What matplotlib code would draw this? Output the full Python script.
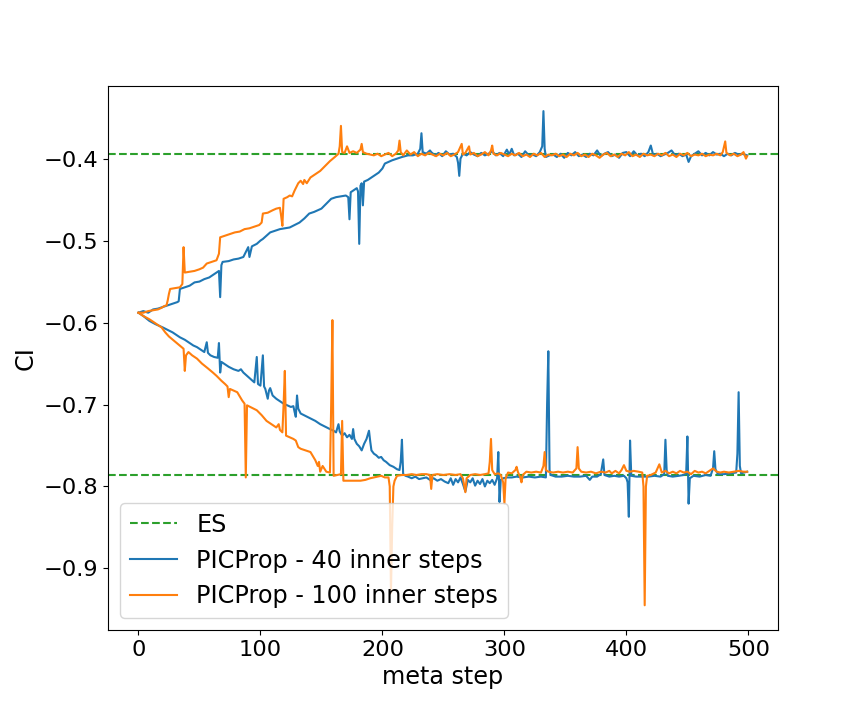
import matplotlib
matplotlib.use("Agg")
import matplotlib.pyplot as plt
import numpy as np

# ES bounds
es_upper = -0.3948
es_lower = -0.7862

# PICProp, 40 inner steps: (meta step, CI bound)
blue_upper = [
    (0, -0.588), (4, -0.586), (8, -0.588), (12, -0.584), (16, -0.583), (20, -0.581),
    (24, -0.579), (28, -0.577), (32, -0.575), (33, -0.574), (34, -0.559), (38, -0.557),
    (42, -0.555), (46, -0.551), (50, -0.550), (54, -0.547), (58, -0.545), (62, -0.541),
    (66, -0.537), (67, -0.569), (68, -0.530), (69, -0.526), (74, -0.525), (78, -0.523),
    (82, -0.522), (86, -0.520), (88, -0.514), (90, -0.508), (91, -0.520), (93, -0.507),
    (97, -0.504), (100, -0.500), (102, -0.498), (105, -0.494), (108, -0.490), (112, -0.488),
    (116, -0.486), (120, -0.485), (124, -0.484), (128, -0.481), (132, -0.478), (136, -0.473),
    (140, -0.467), (144, -0.465), (147, -0.463), (150, -0.461), (154, -0.455), (158, -0.449),
    (162, -0.447), (166, -0.446), (170, -0.445), (172, -0.447), (173, -0.474), (174, -0.441),
    (176, -0.439), (179, -0.436), (180, -0.440), (181, -0.504), (182, -0.433), (183, -0.430),
    (184, -0.457), (185, -0.428), (188, -0.426), (191, -0.423), (194, -0.420), (197, -0.417),
    (200, -0.412), (202, -0.406), (205, -0.404), (208, -0.402), (212, -0.400), (216, -0.398),
    (221, -0.396), (225, -0.396), (229, -0.394), (231, -0.388), (232, -0.369), (233, -0.392),
    (236, -0.394), (239, -0.390), (240, -0.392), (243, -0.396), (246, -0.393), (249, -0.397),
    (252, -0.391), (255, -0.395), (258, -0.394), (261, -0.398), (262, -0.405), (263, -0.421),
    (264, -0.400), (266, -0.394), (269, -0.396), (272, -0.392), (275, -0.395), (278, -0.397),
    (281, -0.393), (284, -0.396), (287, -0.394), (290, -0.391), (293, -0.396), (296, -0.393),
    (299, -0.397), (302, -0.389), (304, -0.395), (306, -0.388), (308, -0.396), (311, -0.394),
    (314, -0.398), (317, -0.391), (320, -0.396), (323, -0.395), (326, -0.397), (329, -0.392),
    (331, -0.385), (332, -0.342), (333, -0.388), (334, -0.398), (337, -0.396), (340, -0.395),
    (343, -0.398), (346, -0.394), (349, -0.399), (352, -0.393), (355, -0.396), (358, -0.392),
    (361, -0.397), (364, -0.395), (367, -0.398), (370, -0.394), (373, -0.396), (376, -0.390),
    (379, -0.397), (382, -0.394), (385, -0.392), (388, -0.397), (391, -0.395), (394, -0.399),
    (397, -0.393), (400, -0.392), (403, -0.397), (406, -0.391), (409, -0.396), (412, -0.394),
    (415, -0.397), (418, -0.392), (420, -0.384), (422, -0.396), (425, -0.394), (428, -0.397),
    (431, -0.395), (434, -0.393), (437, -0.390), (440, -0.396), (443, -0.394), (446, -0.397),
    (449, -0.395), (451, -0.404), (453, -0.397), (456, -0.394), (459, -0.391), (462, -0.396),
    (465, -0.393), (468, -0.396), (471, -0.392), (474, -0.395), (477, -0.394), (480, -0.397),
    (483, -0.394), (486, -0.396), (489, -0.393), (492, -0.395), (495, -0.394), (499, -0.396),
]

blue_lower = [
    (0, -0.588), (4, -0.592), (9, -0.598), (14, -0.602), (20, -0.606), (24, -0.609),
    (28, -0.612), (31, -0.615), (34, -0.618), (38, -0.621), (42, -0.625), (45, -0.628),
    (48, -0.630), (51, -0.633), (54, -0.636), (56, -0.624), (57, -0.637), (59, -0.640),
    (62, -0.642), (65, -0.643), (66, -0.625), (67, -0.661), (68, -0.648), (71, -0.651),
    (74, -0.654), (78, -0.657), (82, -0.659), (84, -0.657), (86, -0.661), (89, -0.665),
    (92, -0.669), (95, -0.673), (97, -0.642), (98, -0.675), (100, -0.677), (102, -0.640),
    (103, -0.678), (104, -0.681), (106, -0.693), (107, -0.683), (108, -0.680), (110, -0.689),
    (113, -0.693), (116, -0.696), (119, -0.699), (122, -0.701), (125, -0.703), (127, -0.702),
    (128, -0.709), (129, -0.715), (130, -0.689), (131, -0.705), (133, -0.711), (137, -0.714),
    (141, -0.717), (145, -0.720), (149, -0.724), (153, -0.727), (157, -0.730), (160, -0.732),
    (162, -0.734), (164, -0.724), (165, -0.733), (167, -0.738), (169, -0.735), (171, -0.740),
    (173, -0.737), (175, -0.742), (176, -0.730), (177, -0.742), (179, -0.748), (181, -0.751),
    (183, -0.756), (185, -0.748), (187, -0.742), (189, -0.732), (190, -0.745), (191, -0.756),
    (193, -0.760), (195, -0.762), (197, -0.765), (199, -0.764), (201, -0.768), (203, -0.770),
    (206, -0.774), (209, -0.776), (212, -0.779), (214, -0.780), (215, -0.770), (216, -0.743),
    (217, -0.785), (219, -0.787), (221, -0.788), (224, -0.790), (227, -0.788), (230, -0.791),
    (233, -0.790), (236, -0.789), (239, -0.792), (242, -0.790), (245, -0.793), (248, -0.791),
    (251, -0.794), (254, -0.796), (256, -0.790), (258, -0.798), (260, -0.791), (262, -0.795),
    (264, -0.789), (266, -0.797), (268, -0.806), (270, -0.792), (272, -0.795), (274, -0.790),
    (276, -0.799), (278, -0.793), (280, -0.797), (282, -0.791), (284, -0.800), (286, -0.793),
    (288, -0.796), (290, -0.792), (292, -0.798), (294, -0.790), (295, -0.758), (296, -0.819),
    (297, -0.792), (299, -0.790), (302, -0.789), (306, -0.789), (310, -0.788), (315, -0.789),
    (320, -0.788), (325, -0.789), (330, -0.788), (334, -0.789), (335, -0.700), (336, -0.635),
    (337, -0.780), (338, -0.786), (342, -0.788), (347, -0.788), (352, -0.787), (357, -0.788),
    (362, -0.788), (367, -0.787), (370, -0.792), (372, -0.788), (376, -0.788), (379, -0.785),
    (381, -0.767), (382, -0.786), (386, -0.788), (390, -0.787), (394, -0.788), (398, -0.787),
    (400, -0.790), (401, -0.795), (402, -0.837), (403, -0.744), (404, -0.787), (408, -0.788),
    (413, -0.788), (418, -0.788), (423, -0.787), (428, -0.788), (431, -0.785), (432, -0.743),
    (433, -0.780), (434, -0.787), (438, -0.788), (443, -0.787), (447, -0.786), (449, -0.784),
    (450, -0.739), (451, -0.821), (452, -0.790), (455, -0.787), (460, -0.788), (465, -0.786),
    (469, -0.787), (471, -0.778), (472, -0.757), (473, -0.779), (475, -0.785), (480, -0.785),
    (485, -0.784), (490, -0.783), (491, -0.760), (492, -0.685), (493, -0.775), (494, -0.784),
    (499, -0.782),
]

# PICProp, 100 inner steps
orange_upper = [
    (0, -0.588), (4, -0.588), (8, -0.586), (12, -0.585), (16, -0.584), (19, -0.582),
    (21, -0.580), (23, -0.579), (24, -0.573), (25, -0.565), (26, -0.559), (30, -0.558),
    (34, -0.557), (36, -0.553), (37, -0.508), (38, -0.539), (42, -0.538), (46, -0.537),
    (50, -0.535), (53, -0.533), (56, -0.528), (60, -0.526), (64, -0.524), (66, -0.516),
    (67, -0.496), (71, -0.494), (75, -0.492), (79, -0.490), (83, -0.489), (87, -0.486),
    (91, -0.485), (95, -0.483), (99, -0.481), (101, -0.478), (102, -0.467), (106, -0.466),
    (110, -0.463), (113, -0.461), (116, -0.460), (117, -0.470), (118, -0.482), (119, -0.449),
    (122, -0.447), (124, -0.445), (126, -0.446), (128, -0.439), (131, -0.430), (133, -0.427),
    (135, -0.431), (136, -0.426), (138, -0.430), (141, -0.423), (145, -0.419), (149, -0.415),
    (153, -0.409), (157, -0.403), (161, -0.398), (164, -0.394), (165, -0.385), (166, -0.360),
    (167, -0.392), (169, -0.393), (171, -0.385), (173, -0.393), (176, -0.391), (179, -0.393),
    (182, -0.389), (183, -0.382), (184, -0.392), (187, -0.394), (190, -0.395), (193, -0.396),
    (196, -0.394), (199, -0.397), (202, -0.395), (205, -0.393), (208, -0.397), (211, -0.394),
    (213, -0.390), (214, -0.378), (215, -0.392), (217, -0.396), (220, -0.390), (223, -0.395),
    (226, -0.392), (229, -0.397), (232, -0.394), (235, -0.396), (238, -0.393), (241, -0.395),
    (244, -0.397), (247, -0.394), (250, -0.396), (253, -0.393), (256, -0.397), (259, -0.395),
    (262, -0.392), (265, -0.382), (266, -0.395), (268, -0.393), (271, -0.385), (272, -0.395),
    (275, -0.393), (278, -0.397), (281, -0.395), (284, -0.392), (287, -0.396), (289, -0.390),
    (290, -0.384), (291, -0.394), (294, -0.396), (297, -0.393), (300, -0.395), (303, -0.397),
    (306, -0.394), (309, -0.396), (312, -0.393), (315, -0.397), (318, -0.395), (321, -0.398),
    (324, -0.394), (327, -0.396), (330, -0.393), (333, -0.398), (336, -0.395), (339, -0.396),
    (342, -0.394), (345, -0.397), (348, -0.395), (351, -0.398), (354, -0.394), (357, -0.396),
    (360, -0.393), (363, -0.397), (366, -0.395), (369, -0.398), (372, -0.394), (375, -0.396),
    (378, -0.399), (381, -0.395), (384, -0.393), (387, -0.397), (390, -0.395), (393, -0.398),
    (396, -0.394), (399, -0.396), (402, -0.392), (405, -0.397), (408, -0.395), (411, -0.398),
    (414, -0.394), (417, -0.396), (420, -0.395), (423, -0.397), (426, -0.394), (429, -0.396),
    (432, -0.393), (435, -0.397), (438, -0.395), (441, -0.398), (444, -0.394), (447, -0.396),
    (450, -0.393), (453, -0.397), (456, -0.395), (459, -0.396), (462, -0.394), (465, -0.397),
    (468, -0.395), (471, -0.396), (474, -0.394), (477, -0.396), (479, -0.392), (481, -0.379),
    (482, -0.393), (485, -0.396), (488, -0.394), (491, -0.397), (494, -0.395), (496, -0.392),
    (498, -0.400), (499, -0.397),
]

orange_lower = [
    (0, -0.588), (4, -0.592), (9, -0.596), (14, -0.601), (19, -0.606), (22, -0.612),
    (25, -0.617), (29, -0.622), (33, -0.627), (37, -0.632), (38, -0.659), (39, -0.640),
    (41, -0.636), (44, -0.640), (48, -0.644), (52, -0.650), (57, -0.656), (61, -0.661),
    (64, -0.665), (66, -0.668), (68, -0.671), (71, -0.675), (73, -0.678), (74, -0.691),
    (75, -0.681), (78, -0.683), (81, -0.685), (83, -0.690), (85, -0.695), (87, -0.699),
    (88, -0.789), (89, -0.701), (93, -0.704), (97, -0.707), (101, -0.713), (105, -0.720),
    (109, -0.724), (113, -0.728), (115, -0.724), (116, -0.731), (118, -0.734), (119, -0.700),
    (120, -0.659), (121, -0.738), (124, -0.740), (127, -0.742), (129, -0.744), (131, -0.752),
    (133, -0.754), (137, -0.756), (141, -0.758), (143, -0.763), (145, -0.768), (147, -0.775),
    (148, -0.770), (149, -0.782), (151, -0.775), (154, -0.782), (157, -0.783), (158, -0.700),
    (159, -0.597), (160, -0.787), (163, -0.786), (166, -0.785), (167, -0.720), (168, -0.793),
    (172, -0.793), (177, -0.793), (182, -0.793), (186, -0.792), (190, -0.790), (193, -0.789),
    (196, -0.788), (199, -0.787), (202, -0.789), (205, -0.789), (206, -0.800), (207, -0.930),
    (208, -0.850), (209, -0.800), (210, -0.793), (212, -0.787), (216, -0.786), (220, -0.786),
    (224, -0.785), (228, -0.786), (232, -0.785), (236, -0.785), (239, -0.786), (240, -0.803),
    (241, -0.786), (245, -0.785), (250, -0.786), (255, -0.785), (260, -0.786), (264, -0.785),
    (266, -0.790), (268, -0.807), (269, -0.790), (272, -0.786), (276, -0.785), (280, -0.786),
    (284, -0.785), (287, -0.784), (288, -0.770), (289, -0.742), (290, -0.780), (292, -0.785),
    (295, -0.784), (297, -0.786), (299, -0.795), (300, -0.821), (301, -0.790), (303, -0.783),
    (306, -0.784), (309, -0.780), (310, -0.776), (311, -0.782), (313, -0.789), (314, -0.795),
    (315, -0.786), (318, -0.782), (322, -0.783), (326, -0.782), (330, -0.783), (332, -0.775),
    (333, -0.758), (334, -0.780), (336, -0.782), (340, -0.783), (344, -0.782), (348, -0.783),
    (352, -0.782), (356, -0.783), (359, -0.778), (360, -0.752), (361, -0.778), (363, -0.782),
    (367, -0.783), (371, -0.782), (375, -0.784), (379, -0.782), (383, -0.783), (386, -0.781),
    (388, -0.784), (391, -0.781), (394, -0.784), (396, -0.780), (398, -0.774), (400, -0.781),
    (403, -0.782), (406, -0.781), (410, -0.782), (413, -0.783), (414, -0.800), (415, -0.945),
    (416, -0.800), (417, -0.787), (420, -0.786), (424, -0.783), (427, -0.773), (429, -0.783),
    (432, -0.781), (435, -0.784), (438, -0.782), (441, -0.784), (444, -0.781), (447, -0.783),
    (450, -0.782), (453, -0.785), (456, -0.781), (459, -0.783), (462, -0.782), (465, -0.784),
    (468, -0.781), (471, -0.778), (474, -0.782), (477, -0.783), (480, -0.782), (484, -0.783),
    (488, -0.782), (492, -0.781), (496, -0.782), (499, -0.782),
]

fig, ax = plt.subplots(figsize=(8.64, 7.2), dpi=100)
fig.subplots_adjust(bottom=0.125)

ax.axhline(es_upper, color="C2", linestyle="--", label="ES")
ax.axhline(es_lower, color="C2", linestyle="--")

bu = np.array(blue_upper)
bl = np.array(blue_lower)
ou = np.array(orange_upper)
ol = np.array(orange_lower)

ax.plot(bu[:, 0], bu[:, 1], color="C0", label="PICProp - 40 inner steps")
ax.plot(bl[:, 0], bl[:, 1], color="C0")
ax.plot(ou[:, 0], ou[:, 1], color="C1", label="PICProp - 100 inner steps")
ax.plot(ol[:, 0], ol[:, 1], color="C1")

ax.set_xlabel("meta step", fontsize=17.2)
ax.set_ylabel("CI", fontsize=17.2)
ax.tick_params(labelsize=16.2)
ax.legend(fontsize=17.2, loc="lower left")

plt.savefig("out.png")
